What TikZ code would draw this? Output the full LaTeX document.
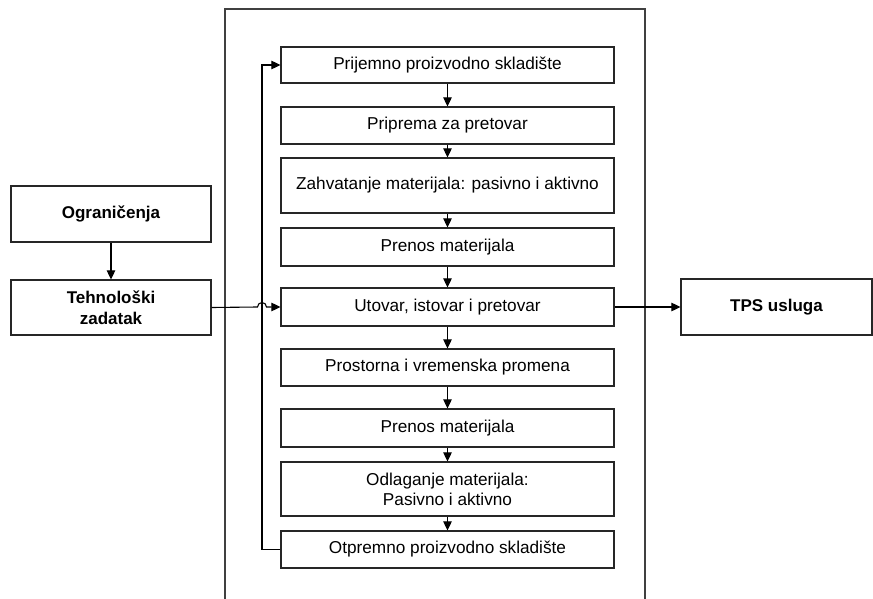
\documentclass[tikz,border=0pt]{standalone}
\usepackage{fontspec}
\setmainfont{Liberation Sans}
\usetikzlibrary{arrows.meta}
\begin{document}
\begin{tikzpicture}[x=1pt,y=-1pt,
  box/.style={draw=black!85,line width=1.2pt,rectangle,inner sep=0pt,align=center,
    font=\fontsize{17.2}{20}\selectfont},
  midbox/.style={box,minimum width=333pt},
  sidebox/.style={box,font=\fontsize{17}{21}\selectfont\bfseries},
  conn/.style={draw=black,line width=1.1pt},
  arr/.style={conn,-{Triangle[length=9pt,width=8.5pt]}},
  frame/.style={draw=black!75,line width=1.2pt}]
\useasboundingbox (0,0) rectangle (873,599);
\draw[frame] (225,600) -- (225,9) -- (645,9) -- (645,600);
% central column
\node[midbox,minimum height=36pt] (b1) at (447.5,65) {Prijemno proizvodno skladište};
\node[midbox,minimum height=37pt] (b2) at (447.5,125.5) {Priprema za pretovar};
\node[midbox,minimum height=55pt] (b3) at (447.5,185.5) {Zahvatanje materijala: pasivno i aktivno};
\node[midbox,minimum height=38pt] (b4) at (447.5,247) {Prenos materijala};
\node[midbox,minimum height=38pt] (b5) at (447.5,307) {Utovar, istovar i pretovar};
\node[midbox,minimum height=37pt] (b6) at (447.5,367.5) {Prostorna i vremenska promena};
\node[midbox,minimum height=38pt] (b7) at (447.5,428) {Prenos materijala};
\node[midbox,minimum height=54pt] (b8) at (447.5,489) {Odlaganje materijala:\\Pasivno i aktivno};
\node[midbox,minimum height=37pt] (b9) at (447.5,549.5) {Otpremno proizvodno skladište};
% side boxes
\node[sidebox,minimum width=200pt,minimum height=56pt] (ogr) at (111,214) {Ograničenja};
\node[sidebox,minimum width=200pt,minimum height=55pt] (teh) at (111,307.5) {Tehnološki\\zadatak};
\node[sidebox,minimum width=191pt,minimum height=56pt] (tps) at (776.5,307) {TPS usluga};
% arrows in column
\foreach \a/\b in {b1/b2,b2/b3,b3/b4,b4/b5,b5/b6,b6/b7,b7/b8,b8/b9}
  \draw[arr] (\a.south) -- (\b.north);
\draw[arr] (ogr.south) -- (teh.north);
% feedback
\coordinate (fb) at (262,549.5);
\draw[arr] (b9.west) -- (fb) |- (b1.west);
% input with hop
\coordinate (hopL) at (257.5,307);
\draw[arr] (teh.east) -- (hopL) arc[start angle=180,end angle=0,radius=4.5pt] -- (b5.west);
% output
\draw[arr] (b5.east) -- (tps.west);
\end{tikzpicture}
\end{document}
